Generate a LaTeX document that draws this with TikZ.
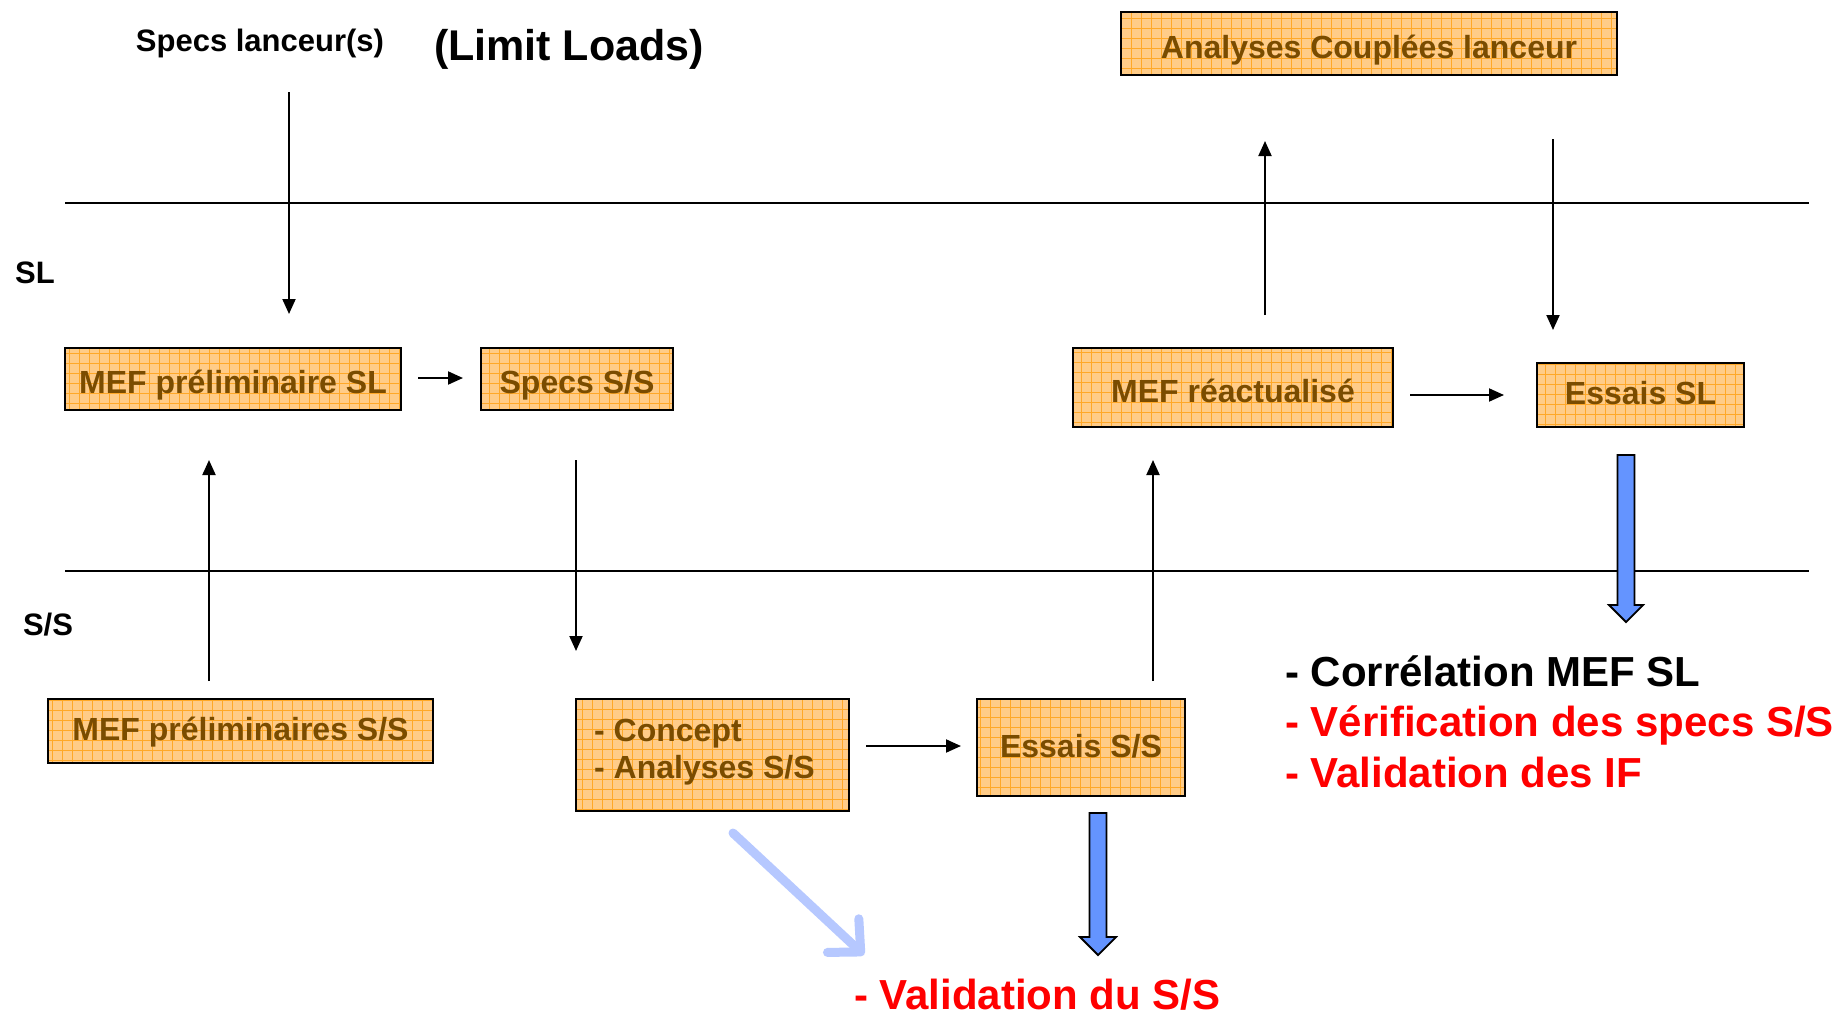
\documentclass[tikz,border=0pt]{standalone}
\usepackage{fontspec}
\setmainfont{Liberation Sans}
\usetikzlibrary{arrows.meta}
\definecolor{boxfill}{RGB}{255,204,136}
\definecolor{gridc}{RGB}{255,168,40}
\definecolor{boxtextc}{RGB}{122,76,0}
\definecolor{blockblue}{RGB}{100,148,255}
\definecolor{lightblue}{RGB}{182,200,255}
\definecolor{redtxt}{RGB}{255,0,0}
\tikzset{
  box/.style={draw=black, line width=2pt, fill=boxfill, inner sep=0pt,
    text=boxtextc, font=\fontsize{32}{37}\selectfont\bfseries,
    text height=29pt, text depth=0pt,
    path picture={\draw[gridc, line width=0.8pt]
      (path picture bounding box.south west) grid[step=10pt]
      (path picture bounding box.north east);}},
  boxhigh/.style={text height=19pt},
  boxtext/.style={text=boxtextc, font=\fontsize{32}{37}\selectfont\bfseries, inner sep=0pt},
  lbl/.style={inner sep=0pt, font=\bfseries},
  conn/.style={line width=2pt, -{Triangle[length=15pt,width=13pt]}},
  sep/.style={line width=2.5pt},
  blockarrow/.style={draw=black, line width=1.8pt, fill=blockblue, line join=miter},
  softarrow/.style={lightblue, line width=9pt, line cap=round,
    -{Straight Barb[length=24pt,width=46pt,round]}},
  bigtxt/.style={inner sep=0pt, anchor=base west, font=\fontsize{42}{48}\selectfont\bfseries}
}
\begin{document}
\begin{tikzpicture}[x=1pt,y=-1pt]
\fill[white] (0,0) rectangle (1848,1015);
\useasboundingbox (0,0) rectangle (1848,1015);

% separators
\coordinate (l1a) at (65,203); \coordinate (l1b) at (1809,203);
\coordinate (l2a) at (65,571); \coordinate (l2b) at (1809,571);
\draw[sep] (l1a) -- (l1b);
\draw[sep] (l2a) -- (l2b);

% labels
\node[lbl, font=\fontsize{31}{36}\selectfont\bfseries] (spl) at (260,43) {Specs lanceur(s)};
\node[lbl, font=\fontsize{43}{50}\selectfont\bfseries] (ll) at (569,49) {(Limit Loads)};
\node[lbl, font=\fontsize{31}{36}\selectfont\bfseries] (sl) at (35,273) {SL};
\node[lbl, font=\fontsize{31}{36}\selectfont\bfseries] (ss) at (48,625) {S/S};

% boxes
\node[box, minimum width=496pt, minimum height=63pt] (acl) at (1369,43.5) {Analyses Couplées lanceur};
\node[box, minimum width=336pt, minimum height=62pt] (mpsl) at (233,379) {MEF préliminaire SL};
\node[box, minimum width=192pt, minimum height=62pt] (sss) at (577,379) {Specs S/S};
\node[box, minimum width=320pt, minimum height=79pt] (mr) at (1233,387.5) {MEF réactualisé};
\node[box, boxhigh, minimum width=207pt, minimum height=64pt] (esl) at (1640.5,395) {Essais SL};
\node[box, boxhigh, minimum width=385pt, minimum height=64pt] (mpss) at (240.5,731) {MEF préliminaires S/S};
\node[box, minimum width=273pt, minimum height=112pt] (con) at (712.5,755) {};
\node[boxtext, anchor=west, align=left] (contxt) at ([xshift=19pt,yshift=3pt]con.west) {- Concept\\- Analyses S/S};
\node[box, boxhigh, minimum width=208pt, minimum height=97pt] (ess) at (1081,747.5) {Essais S/S};

% connector end points
\coordinate (a1s) at (289,92);   \coordinate (a1e) at (289,314);
\coordinate (a2s) at (418,378);  \coordinate (a2e) at (463,378);
\coordinate (a3s) at (576,460);  \coordinate (a3e) at (576,651);
\coordinate (a4s) at (209,681);  \coordinate (a4e) at (209,460);
\coordinate (a5s) at (866,746);  \coordinate (a5e) at (961,746);
\coordinate (a6s) at (1153,681); \coordinate (a6e) at (1153,460);
\coordinate (a7s) at (1265,315); \coordinate (a7e) at (1265,141);
\coordinate (a8s) at (1553,139); \coordinate (a8e) at (1553,330);
\coordinate (a9s) at (1410,395); \coordinate (a9e) at (1504,395);
\coordinate (a10s) at (733,833); \coordinate (a10e) at (864,955);

\draw[conn] (a1s) -- (a1e);
\draw[conn] (a2s) -- (a2e);
\draw[conn] (a3s) -- (a3e);
\draw[conn] (a4s) -- (a4e);
\draw[conn] (a5s) -- (a5e);
\draw[conn] (a6s) -- (a6e);
\draw[conn] (a7s) -- (a7e);
\draw[conn] (a8s) -- (a8e);
\draw[conn] (a9s) -- (a9e);
\draw[softarrow] (a10s) -- (a10e);

% block arrows
\draw[blockarrow] (1617.5,455) -- (1634.5,455) -- (1634.5,605) -- (1643,605) -- (1626,622) -- (1609,605) -- (1617.5,605) -- cycle;
\draw[blockarrow] (1089.5,813) -- (1106.5,813) -- (1106.5,937) -- (1116,937) -- (1098,955) -- (1080,937) -- (1089.5,937) -- cycle;

% result texts
\node[bigtxt] (r1) at (1285,686) {- Corrélation MEF SL};
\node[bigtxt, text=redtxt] (r2) at (1285,736) {- Vérification des specs S/S};
\node[bigtxt, text=redtxt] (r3) at (1285,787) {- Validation des IF};
\node[bigtxt, text=redtxt] (vss) at (854,1009) {- Validation du S/S};
\end{tikzpicture}
\end{document}
